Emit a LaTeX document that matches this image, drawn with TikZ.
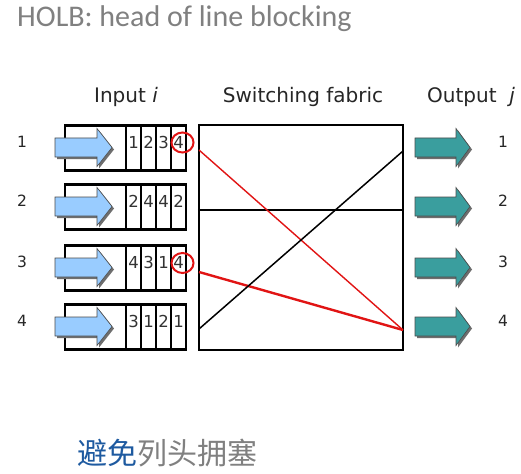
\documentclass[tikz,border=0pt]{standalone}
\usepackage{fontspec}
\setmainfont{DejaVu Sans}
\newfontfamily\titlefont{Carlito}
\newfontfamily\cjk{Noto Sans CJK SC}
\usetikzlibrary{shapes.geometric}
\definecolor{inblue}{RGB}{153,204,255}
\definecolor{outteal}{RGB}{58,158,158}
\definecolor{titlegray}{RGB}{128,128,128}
\definecolor{cjkblue}{RGB}{30,90,160}
\definecolor{shadowgray}{RGB}{110,110,110}
\definecolor{hred}{RGB}{225,20,20}
\tikzset{
  boxline/.style={draw=black, line width=2.3pt},
  digit/.style={font=\fontsize{16.5}{16.5}\selectfont, text=black!80, inner sep=0pt},
  portlabel/.style={font=\fontsize{15.5}{15.5}\selectfont, text=black!85, inner sep=0pt},
  header/.style={font=\fontsize{20}{20}\selectfont, text=black!85, inner sep=0pt},
  holc/.style={draw=hred, line width=2pt, ellipse, minimum width=22pt, minimum height=20pt, inner sep=0pt},
  redpath/.style={draw=hred},
  pics/bigarrow/.style n args={3}{code={
    \fill[shadowgray] (2,-7.5) -- (#2+2,-7.5) -- (#2+2,-17) -- (#3+2,2) -- (#2+2,21) -- (#2+2,11.5) -- (2,11.5) -- cycle;
    \filldraw[fill=#1, draw=black!70, line width=0.6pt] (0,-9.5) -- (#2,-9.5) -- (#2,-19) -- (#3,0) -- (#2,19) -- (#2,9.5) -- (0,9.5) -- cycle;
  }}
}
\begin{document}
\begin{tikzpicture}[x=1pt,y=-1pt]
\useasboundingbox[fill=white] (0,0) rectangle (521,473);
% title
\node[anchor=base west, inner sep=0pt, font=\titlefont\fontsize{30}{30}\selectfont, text=titlegray] (title) at (17,27) {HOLB: head of line blocking};
% headers
\node[header] (hin) at (126,97) {Input \textit{i}};
\node[header] (hsw) at (303,97) {Switching fabric};
\node[header] (hout) at (471,97) {Output~~\textit{j}};
% input queues
\foreach \k/\c/\a/\b/\d/\e in {1/148/1/2/3/4, 2/207/2/4/4/2, 3/268/4/3/1/4, 4/327/3/1/2/1}{
  \node[boxline, minimum width=121pt, minimum height=45pt, inner sep=0pt] (q\k) at (125.5,\c) {};
  \foreach \xx in {126,141,156,171}{
    \draw[line width=2.3pt] (\xx,\c-22.5) -- (\xx,\c+22.5);
  }
  \node[digit] (q\k a) at (133.5,\c-6) {\a};
  \node[digit] (q\k b) at (148.5,\c-6) {\b};
  \node[digit] (q\k c) at (163.5,\c-6) {\d};
  \node[digit] (q\k d) at (178.5,\c-6) {\e};
  \node[portlabel] (in\k) at (22,\c-6) {\k};
  \node[portlabel] (out\k) at (503,\c-6) {\k};
  \pic (ia\k) at (55,\c-0.5) {bigarrow={inblue}{42}{57}};
  \pic (oa\k) at (415,\c-0.5) {bigarrow={outteal}{41}{55}};
}
% head-of-line markers
\node[holc] (h1) at (182.5,142.5) {};
\node[holc] (h3) at (182.5,263) {};
% switching fabric
\node[boxline, minimum width=204pt, minimum height=225pt, inner sep=0pt] (fab) at (301,237.5) {};
\draw[line width=2.3pt] (fab.west |- 0,210) -- (fab.east |- 0,210);
\coordinate (f1in) at (199,150);
\coordinate (f3in) at (199,272);
\coordinate (f4in) at (199,329);
\coordinate (f1out) at (403,151);
\coordinate (f4out) at (403,330);
\draw[redpath, line width=1.4pt] (f1in) -- (f4out);
\draw[redpath, line width=2.4pt] (f3in) -- (f4out);
\draw[black, line width=1.5pt] (f4in) -- (f1out);
% bottom caption
\node[anchor=west, inner sep=0pt, font=\cjk\fontsize{30}{30}\selectfont] (cap) at (77,453) {\textcolor{cjkblue}{避免}\textcolor{titlegray}{列头拥塞}};
\end{tikzpicture}
\end{document}
